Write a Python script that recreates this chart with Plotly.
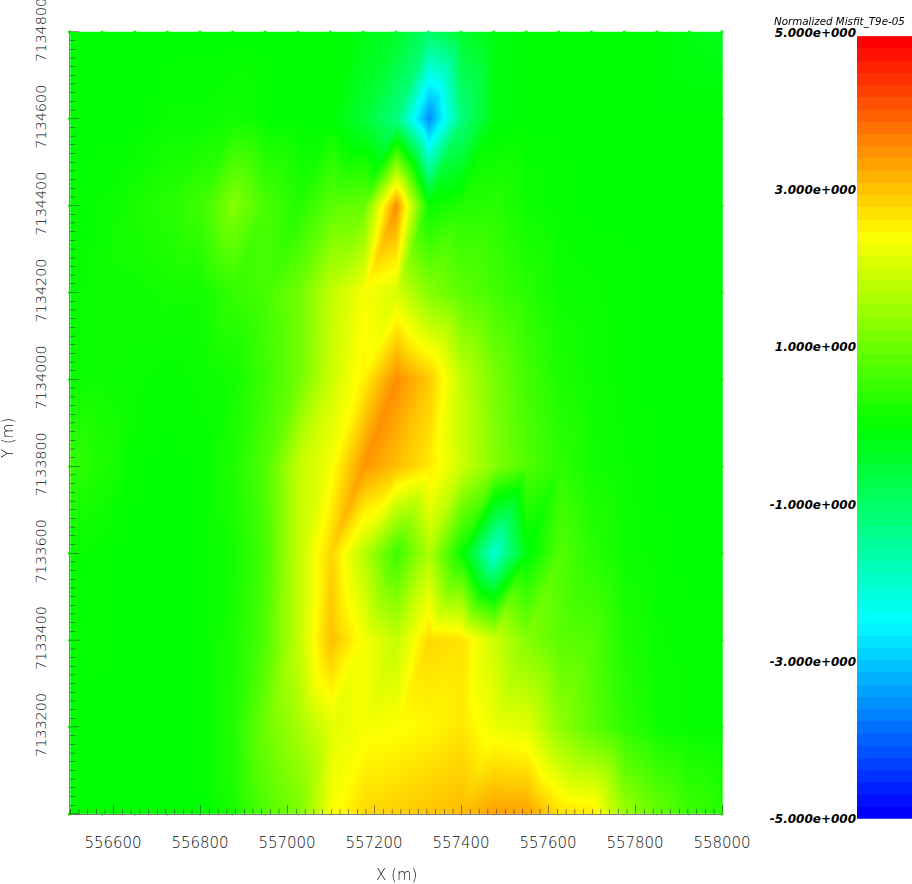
import numpy as np
import plotly.graph_objects as go

# Survey nodes: 75 m spacing in X, 200 m spacing in Y (rows run north to south)
x_nodes = [556500 + 75 * n for n in range(21)]
y_nodes = [7134800, 7134600, 7134400, 7134200, 7134000, 7133800, 7133600, 7133400, 7133200, 7133000]

row_7134800 = [0, 0, 0, 0, 0, 0, 0, 0, 0, -.15, -.35, -1.0, -.4, -.1, 0, 0, 0, 0, 0, -.15, -.2]
row_7134600 = [0, 0, 0, .1, .1, .2, .05, 0, 0, -.5, -1.2, -3.6, -1.2, -.1, 0, 0, 0, 0, 0, 0, 0]
row_7134400 = [.05, .1, .25, .4, .6, 1.3, .7, .35, .9, 1.0, 3.6, .1, .35, .4, .15, .05, 0, 0, 0, 0, 0]
row_7134200 = [.05, .15, .15, .2, .2, .5, .7, 1.1, 1.9, 2.4, 2.1, 1.3, .9, .65, .4, .15, .1, .05, 0, 0, 0]
row_7134000 = [.1, .15, .1, .05, .1, .2, .6, 1.1, 2.0, 2.6, 3.6, 3.0, 1.9, 1.2, .65, .3, .15, .05, 0, 0, 0]
row_7133800 = [.5, .3, .05, 0, .05, .3, .8, 1.9, 2.4, 3.5, 3.1, 2.7, 2.0, 1.3, .8, .45, .2, .1, 0, 0, 0]
row_7133600 = [.1, .05, 0, 0, .05, .2, .7, 1.9, 2.9, 1.8, .6, 1.7, .1, -2.1, -.1, .8, .4, .15, .05, 0, 0]
row_7133400 = [.05, .05, 0, 0, .05, .25, .8, 1.9, 3.1, 2.4, 1.9, 2.85, 2.75, 2.0, 1.3, .9, .8, .3, .1, .05, .05]
row_7133200 = [0, 0, 0, 0, .05, .35, 1.1, 1.6, 2.2, 2.4, 2.45, 2.55, 2.7, 2.3, 2.2, 1.4, .9, .45, .15, .05, .05]
row_7133000 = [0, 0, 0, 0, 0, .25, .8, 1.2, 2.4, 2.85, 2.95, 3.05, 3.15, 3.4, 3.4, 2.8, 2.7, 1.5, 1.0, .6, .4]

misfit_rows = [row_7134800, row_7134600, row_7134400, row_7134200, row_7134000,
               row_7133800, row_7133600, row_7133400, row_7133200, row_7133000]

x_ticks = [556600, 556800, 557000, 557200, 557400, 557600, 557800, 558000]
y_ticks = [7133200, 7133400, 7133600, 7133800, 7134000, 7134200, 7134400, 7134600, 7134800]
scale_ticks = [5, 3, 1, -1, -3, -5]
scale_labels = ["5.000e+000", "3.000e+000", "1.000e+000", "-1.000e+000", "-3.000e+000", "-5.000e+000"]
scale_title = "Normalized Misfit_T9e-05"

RAINBOW = [[0, "#0000ff"], [.25, "#00ffff"], [.5, "#00ff00"], [.75, "#ffff00"], [1, "#ff0000"]]
W, H = 912, 884
PLOT_L, PLOT_R, PLOT_T, PLOT_B = 69.5, 722, 32, 814
PAD = 10
# Scene box units per pixel for the orthographic view of this scene height
BOX_PER_PX = 1 / 401

# Triangulate the node grid, splitting every cell along its SW-NE diagonal
nx, ny = len(x_nodes), len(y_nodes)
vx, vy, vi = [], [], []
for r in range(ny):
    for c in range(nx):
        vx.append(x_nodes[c])
        vy.append(y_nodes[r])
        vi.append(misfit_rows[r][c])
ti, tj, tk = [], [], []
for r in range(ny - 1):
    for c in range(nx - 1):
        nw, ne = r * nx + c, r * nx + c + 1
        sw, se = nw + nx, ne + nx
        ti += [sw, sw]
        tj += [ne, se]
        tk += [nw, ne]

# Tick marks sit on top of the mesh, so they live in the same 3D scene
m_per_px = 1500 / (PLOT_R - PLOT_L)
tx, ty = [], []
for v in range(556500, 558001, 20):
    ln = (9 if (v - 556600) % 200 == 0 else 5) * m_per_px
    tx += [v, v, None]
    ty += [7133000, 7133000 + ln, None]
for v in range(7133000, 7134801, 20):
    ln = (9 if (v - 7133000) % 200 == 0 else 5) * m_per_px
    tx += [556500, 556500 + ln, None]
    ty += [v, v, None]

fig = go.Figure()
fig.add_trace(go.Mesh3d(
    x=vx, y=vy, z=[0] * len(vx), i=ti, j=tj, k=tk, intensity=vi,
    colorscale=RAINBOW, cmin=-5, cmax=5, showscale=False, flatshading=False,
    lighting=dict(ambient=1, diffuse=0, specular=0, roughness=1, fresnel=0),
    hoverinfo="skip", scene="scene",
))
fig.add_trace(go.Scatter3d(
    x=tx, y=ty, z=[0.5 if t is not None else None for t in tx], mode="lines",
    connectgaps=False, line=dict(color="#222222", width=1), hoverinfo="skip", scene="scene",
))

# Boundary nodes, coloured by their value
edge_x = x_nodes * 2 + [x_nodes[0]] * ny + [x_nodes[-1]] * ny
edge_y = [y_nodes[0]] * nx + [y_nodes[-1]] * nx + y_nodes * 2
edge_v = misfit_rows[0] + misfit_rows[-1] + [row[0] for row in misfit_rows] + [row[-1] for row in misfit_rows]
fig.add_trace(go.Scatter(
    x=edge_x, y=edge_y, mode="markers", cliponaxis=False, hoverinfo="skip",
    marker=dict(size=3, color=edge_v, colorscale=RAINBOW, cmin=-5, cmax=5),
    xaxis="x", yaxis="y",
))

# Banded colour scale
n_bands = 64
band_step = 9.96 / n_bands
band_y = [-5 + band_step * (b + .5) for b in range(n_bands)]
band_z = [[v] for v in np.linspace(-5, 5, n_bands)]
fig.add_trace(go.Heatmap(
    x=[0], y=band_y, z=band_z, colorscale=RAINBOW, zmin=-5, zmax=5,
    showscale=False, hoverinfo="skip", xaxis="x2", yaxis="y2",
))

x_font = dict(family="DejaVu Sans", size=15, color="#111111", weight=200)
y_font = dict(family="DejaVu Sans", size=14.4, color="#111111", weight=200)
title_font = dict(family="DejaVu Sans", size=15, color="#111111", weight=200)
fig.update_layout(
    width=W, height=H, margin=dict(l=0, r=0, t=0, b=0), paper_bgcolor="white",
    plot_bgcolor="rgba(0,0,0,0)", showlegend=False,
    scene=dict(
        domain=dict(x=[(PLOT_L - PAD) / W, (PLOT_R + PAD) / W],
                    y=[1 - (PLOT_B + PAD) / H, 1 - (PLOT_T - PAD) / H]),
        xaxis=dict(visible=False, range=[556500, 558000]),
        yaxis=dict(visible=False, range=[7133000, 7134800]),
        zaxis=dict(visible=False, range=[-1, 1]),
        aspectmode="manual",
        aspectratio=dict(x=(PLOT_R - PLOT_L) * BOX_PER_PX, y=(PLOT_B - PLOT_T) * BOX_PER_PX, z=.05),
        camera=dict(eye=dict(x=0, y=0, z=1.25), up=dict(x=0, y=1, z=0), center=dict(x=0, y=0, z=0),
                    projection=dict(type="orthographic")),
        bgcolor="rgba(0,0,0,0)",
    ),
    xaxis=dict(domain=[PLOT_L / W, PLOT_R / W], range=[556500, 558000], tickvals=x_ticks, tickformat="d",
               ticks="", showgrid=False, zeroline=False, showline=True, linecolor="#808080", linewidth=1,
               tickfont=x_font, ticklabelstandoff=15, ticklabeloverflow="allow", anchor="y", automargin=False),
    yaxis=dict(domain=[1 - PLOT_B / H, 1 - PLOT_T / H], range=[7133000, 7134800], tickvals=y_ticks,
               ticks="", showgrid=False, zeroline=False, showline=True, linecolor="#808080", linewidth=1,
               tickfont=y_font, tickangle=-90, ticklabelstandoff=17, ticklabeloverflow="allow",
               anchor="x", automargin=False, tickformat="d"),
    xaxis2=dict(domain=[857 / W, 1], range=[-.5, .5], visible=False, anchor="y2"),
    yaxis2=dict(domain=[1 - 818.7 / H, 1 - 33 / H], range=[-5, 5], anchor="x2", side="left",
                tickvals=scale_ticks, ticktext=scale_labels, ticks="", showgrid=False, zeroline=False,
                showline=False, automargin=False,
                tickfont=dict(family="DejaVu Sans", size=12, color="black", style="italic", weight=600)),
    annotations=[
        dict(text=scale_title, x=906.5 / W, y=1 - 21 / H, xref="paper", yref="paper", xanchor="right", yanchor="middle",
             showarrow=False, font=dict(family="DejaVu Sans", size=10.3, color="black", style="italic")),
        dict(text="X (m)", x=396 / W, y=1 - 875 / H, xref="paper", yref="paper", xanchor="center", yanchor="middle",
             showarrow=False, font=title_font),
        dict(text="Y (m)", x=8 / W, y=1 - 438 / H, xref="paper", yref="paper", xanchor="center", yanchor="middle",
             textangle=-90, showarrow=False, font=title_font),
    ],
)

fig.write_html("out.html")
